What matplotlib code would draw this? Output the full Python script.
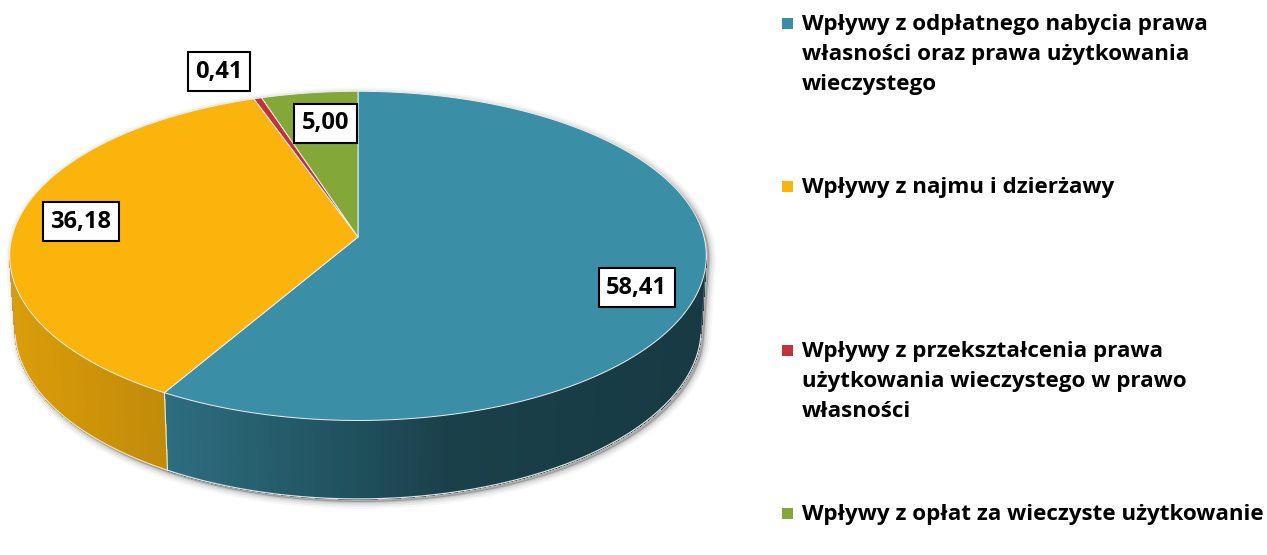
import numpy as np
import matplotlib
matplotlib.use("Agg")
import matplotlib.pyplot as plt
from matplotlib.patches import Polygon, Rectangle
from matplotlib.collections import PolyCollection

# --- DATA ---
labels = [
    "Wpływy z odpłatnego nabycia prawa\nwłasności oraz prawa użytkowania\nwieczystego",
    "Wpływy z najmu i dzierżawy",
    "Wpływy z przekształcenia prawa\nużytkowania wieczystego w prawo\nwłasności",
    "Wpływy z opłat za wieczyste użytkowanie",
]
values = [58.41, 36.18, 0.41, 5.00]
value_labels = ["58,41", "36,18", "0,41", "5,00"]
colors = ["#3A8FA6", "#FBB40B", "#C3313A", "#83A838"]

FONT = ["Open Sans", "DejaVu Sans"]

# --- 3D VIEW SETUP (pixel space) ---
W, H = 1267, 555
CX, CY = 358, 237
ALPHA = np.radians(28)   # tilt of the pie
DIST = 7.7               # camera distance (in pie radii)
FOCAL = 2664
THICK = 0.24

def project(theta, r=1.0, y=0.0):
    """theta measured clockwise from the far side of the pie."""
    X = r * np.sin(theta)
    Z = r * np.cos(theta)
    up = y * np.cos(ALPHA) + Z * np.sin(ALPHA)
    depth = DIST - y * np.sin(ALPHA) + Z * np.cos(ALPHA)
    return np.column_stack([CX + FOCAL * X / depth, CY - FOCAL * up / depth])

def facing(theta):
    return -1 - DIST * np.cos(ALPHA) * np.cos(theta) > 0

def shade(x):
    return np.interp(x, [12, 165, 450, 707], [0.87, 0.77, 0.45, 0.40])

fig = plt.figure(figsize=(W / 100, H / 100), dpi=100)
ax = fig.add_axes([0, 0, 1, 1])
ax.set_xlim(0, W)
ax.set_ylim(H, 0)
ax.axis("off")

fracs = np.array(values) / np.sum(values)
bounds = np.concatenate([[0], np.cumsum(fracs)]) * 2 * np.pi

# shadow behind the whole pie
tt = np.linspace(0, 2 * np.pi, 721)
sil = np.array([project(t, 1, -THICK)[0] if facing(t) else project(t)[0] for t in tt])
off = np.array([3, 3])
for lw, a in [(10, 0.03), (7, 0.05), (4, 0.07), (1.5, 0.1)]:
    ax.add_patch(Polygon(sil + off, closed=True, fc="none", ec=(0, 0, 0, a),
                         lw=lw, joinstyle="round", zorder=1))
ax.add_patch(Polygon(sil + off, closed=True, fc=(0, 0, 0, 0.2), ec="none", zorder=1))

# outer walls with left-to-right gradient
quads, qcols = [], []
rgb = [np.array(matplotlib.colors.to_rgb(c)) for c in colors]
for i in range(len(values)):
    a0, a1 = bounds[i], bounds[i + 1]
    n = max(2, int(np.degrees(a1 - a0) * 2))
    ts = np.linspace(a0, a1, n)
    for t0, t1 in zip(ts[:-1], ts[1:]):
        if not facing(0.5 * (t0 + t1)):
            continue
        p_top = project(np.array([t0, t1]))
        p_bot = project(np.array([t1, t0]), 1, -THICK)
        quad = np.vstack([p_top, p_bot])
        quads.append(quad)
        qcols.append(np.clip(rgb[i] * shade(quad[:, 0].mean()), 0, 1))
ax.add_collection(PolyCollection(quads, facecolors=qcols, edgecolors=qcols,
                                 linewidths=0.5, antialiased=False, zorder=2))

# light edges on the wall
vis = tt[facing(tt)]
bot = project(vis, 1, -THICK)
ax.plot(bot[:, 0], bot[:, 1], color="#e0e0e0", lw=0.9, zorder=3)
for b in bounds[1:-1]:
    if facing(b):
        seg = np.vstack([project(np.array([b])), project(np.array([b]), 1, -THICK)])
        ax.plot(seg[:, 0], seg[:, 1], color="#e8e8e8", lw=0.8, zorder=3)
for side in (vis[0], vis[-1]):
    seg = np.vstack([project(np.array([side])), project(np.array([side]), 1, -THICK)])
    ax.plot(seg[:, 0], seg[:, 1], color=(0.6, 0.6, 0.6, 0.5), lw=0.6, zorder=3)

# top faces
for i in range(len(values)):
    ts = np.linspace(bounds[i], bounds[i + 1], max(3, int(np.degrees(bounds[i + 1] - bounds[i]) * 2)))
    pts = np.vstack([[CX, CY], project(ts)])
    ax.add_patch(Polygon(pts, closed=True, fc=colors[i], ec="#eeeeee", lw=0.7,
                         joinstyle="round", zorder=4))

# value labels
label_r = [0.82, 0.8, 1.2, 0.75]
label_nudge = [(-2, 15), (-4, -3), (-21, -2), (5, -3)]
for i, txt in enumerate(value_labels):
    mid = 0.5 * (bounds[i] + bounds[i + 1])
    x, y = project(np.array([mid]), label_r[i])[0] + np.array(label_nudge[i])
    ax.text(x, y, txt, ha="center", va="center", fontsize=17, fontweight="bold",
            family=FONT, color="black", zorder=6,
            bbox=dict(boxstyle="square,pad=0.32", fc="white", ec="black", lw=1.5))

# legend
legend_base = [30, 193, 357, 520]
for i, lab in enumerate(labels):
    ax.add_patch(Rectangle((782, legend_base[i] - 12), 11, 11, fc=colors[i], ec="none", zorder=5))
    for j, line in enumerate(lab.split("\n")):
        ax.text(802, legend_base[i] + 30 * j, line, ha="left", va="baseline",
                fontsize=16.1, fontweight="bold", family=FONT,
                color="black", zorder=5)

fig.savefig("out.png", dpi=100)
